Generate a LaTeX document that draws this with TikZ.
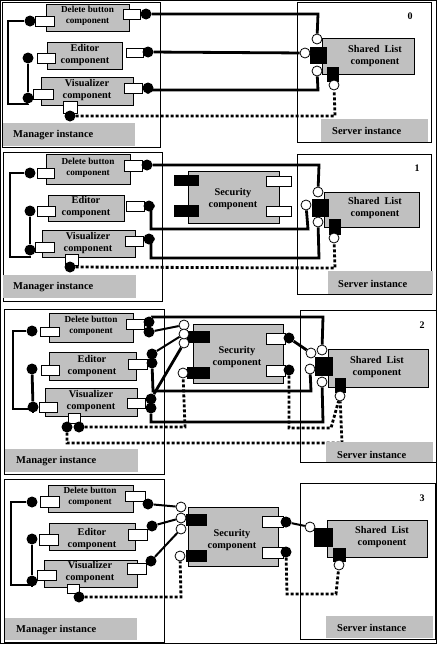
\documentclass[tikz,border=0pt]{standalone}
\usepackage{fontspec}
\setmainfont{Liberation Serif}
\usetikzlibrary{fit}
\pgfdeclarelayer{bg}
\pgfsetlayers{bg,main}
\definecolor{cgray}{HTML}{C0C0C0}
\tikzset{
 frame/.style={draw, line width=1pt, inner sep=0pt},
 comp/.style={draw, fill=cgray, line width=1pt, inner sep=0pt},
 lbl/.style={fill=cgray, inner sep=0pt},
 wport/.style={draw, fill=white, line width=1pt, inner sep=0pt},
 bport/.style={fill=black, inner sep=0pt},
 bdot/.style={circle, fill=black, inner sep=0pt, minimum size=11pt},
 wdot/.style={circle, draw, fill=white, inner sep=0pt, minimum size=10pt, line width=0.8pt},
 wire/.style={line width=2.8pt},
 twire/.style={line width=2pt},
 dwire/.style={line width=2.8pt, dash pattern=on 3pt off 2pt},
 ctext/.style={font=\bfseries\fontsize{10.3}{12}\selectfont, align=center, inner sep=0pt},
 stext/.style={font=\bfseries\fontsize{9.2}{10.5}\selectfont, align=center, inner sep=0pt},
 ltext/.style={font=\bfseries\fontsize{10.5}{12}\selectfont, anchor=west, inner sep=0pt},
 ntext/.style={font=\bfseries\fontsize{10}{12}\selectfont, inner sep=0pt},
}
\newcommand\rr[6]{\node[#2, fit={(#3,#4) (#5,#6)}] (#1) {};}
\begin{document}
\begin{tikzpicture}[x=1pt,y=-1pt]
\useasboundingbox (0,0) rectangle (437,645);
\node[frame, fit={(0.5,0.5) (436,643.5)}] (outer) {};

% ================= PANEL 0 =================
\rr{M0}{frame}{2}{2}{160}{147}
\rr{SV0}{frame}{297}{2}{431}{142}
\rr{ML0}{lbl}{3}{123}{135}{146}
\node[ltext] (ML0t) at (13,135) {Manager instance};
\rr{SL0}{lbl}{321}{119}{428}{142}
\node[ltext] (SL0t) at (332,131) {Server instance};
\node[ntext] (N0) at (410,16) {0};

\rr{D0}{comp}{46}{4}{129}{31}
\node[stext] (D0t) at (87.5,16) {Delete button\\component};
\rr{D0pl}{wport}{35}{16}{54}{26}
\rr{D0pr}{wport}{123}{9}{140}{19}
\node[bdot] (D0L) at (30,21) {};
\node[bdot] (D0R) at (146,14) {};

\rr{E0}{comp}{47}{42}{122}{69}
\node[ctext] (E0t) at (85,55) {Editor\\component};
\rr{E0pl}{wport}{37}{53}{55}{63}
\rr{E0pr}{wport}{126}{48}{143}{57}
\node[bdot] (E0L) at (28,58) {};
\node[bdot] (E0R) at (148,52) {};

\rr{V0}{comp}{41}{77}{133}{105}
\node[ctext] (V0t) at (87,90) {Visualizer\\component};
\rr{V0pl}{wport}{33}{89}{53}{99}
\rr{V0pr}{wport}{124}{83}{142}{93}
\rr{V0pb}{wport}{63}{101}{77}{113}
\node[bdot] (V0L) at (28,98) {};
\node[bdot] (V0R) at (148,88) {};
\node[bdot] (V0B) at (70,116) {};

\rr{S0}{comp}{322}{38}{414}{74}
\node[ctext] (S0t) at (375,56) {Shared~~List\\component};
\rr{S0big}{bport}{310}{47}{327}{64}
\rr{S0sm}{bport}{327}{67}{339}{82}
\node[wdot] (S0T) at (317,39) {};
\node[wdot] (S0L) at (305,53) {};
\node[wdot] (S0B) at (317,71) {};
\node[wdot] (S0P) at (334,85) {};

\begin{pgfonlayer}{bg}
\draw[wire] (D0L) -- (8,21) -- (8,104) -- (28,104) -- (V0L);
\draw[wire] (E0L) -- (V0L);
\draw[wire] (D0R) -- (318,14) -- (S0T);
\draw[wire] (E0R) -- (S0L);
\draw[wire] (V0R) -- (148,90) -- (318,90) -- (S0B);
\draw[dwire] (V0B) -- (335,116) -- (S0P);
\end{pgfonlayer}

% ================= PANEL 1 =================
\rr{M1}{frame}{3}{152}{162}{301}
\rr{SV1}{frame}{297}{154}{431}{294}
\rr{ML1}{lbl}{3}{275}{136}{298}
\node[ltext] (ML1t) at (13,287) {Manager instance};
\rr{SL1}{lbl}{328}{271}{433}{294}
\node[ltext] (SL1t) at (338,284) {Server instance};
\node[ntext] (N1) at (417,168) {1};

\rr{D1}{comp}{46}{154}{130}{184}
\node[stext] (D1t) at (88,168) {Delete button\\component};
\rr{D1pl}{wport}{37}{168}{54}{178}
\rr{D1pr}{wport}{124}{160}{142}{171}
\node[bdot] (D1L) at (30,173) {};
\node[bdot] (D1R) at (147,165) {};

\rr{E1}{comp}{48}{195}{124}{221}
\node[ctext] (E1t) at (86,207) {Editor\\component};
\rr{E1pl}{wport}{37}{206}{55}{216}
\rr{E1pr}{wport}{126}{201}{144}{211}
\node[bdot] (E1L) at (30,211) {};
\node[bdot] (E1R) at (149,206) {};

\rr{V1}{comp}{42}{230}{135}{257}
\node[ctext] (V1t) at (88,243) {Visualizer\\component};
\rr{V1pl}{wport}{35}{242}{54}{252}
\rr{V1pr}{wport}{125}{236}{143}{246}
\rr{V1pb}{wport}{65}{254}{78}{265}
\node[bdot] (V1L) at (30,250) {};
\node[bdot] (V1R) at (149,239) {};
\node[bdot] (V1B) at (70,267) {};

\rr{X1}{comp}{188}{171}{279}{223}
\node[ctext] (X1t) at (233,199) {Security\\component};
\rr{X1b1}{bport}{174}{175}{199}{186}
\rr{X1b2}{bport}{174}{205}{199}{217}
\rr{X1w1}{wport}{266}{176}{291}{186}
\rr{X1w2}{wport}{266}{206}{291}{216}

\rr{S1}{comp}{324}{192}{419}{227}
\node[ctext] (S1t) at (375,208) {Shared~~List\\component};
\rr{S1big}{bport}{312}{199}{329}{217}
\rr{S1sm}{bport}{329}{219}{341}{235}
\node[wdot] (S1T) at (318,192) {};
\node[wdot] (S1L) at (306,205) {};
\node[wdot] (S1B) at (318,222) {};
\node[wdot] (S1P) at (334,238) {};

\begin{pgfonlayer}{bg}
\draw[wire] (D1L) -- (10,173) -- (10,257) -- (30,257) -- (V1L);
\draw[wire] (E1L) -- (V1L);
\draw[wire] (D1R) -- (319,165) -- (S1T);
\draw[wire] (E1R) -- (151,206) -- (151,229) -- (308,229) -- (S1L);
\draw[wire] (V1R) -- (151,239) -- (151,258) -- (319,258) -- (S1B);
\draw[dwire] (V1B) -- (335,268) -- (S1P);
\end{pgfonlayer}

% ================= PANEL 2 =================
\rr{M2}{frame}{4}{309}{164}{474}
\rr{SV2}{frame}{300}{310}{436}{462}
\rr{ML2}{lbl}{5}{449}{138}{472}
\node[ltext] (ML2t) at (16,461) {Manager instance};
\rr{SL2}{lbl}{326}{442}{433}{462}
\node[ltext] (SL2t) at (337,455) {Server instance};
\node[ntext] (N2) at (422,325) {2};

\rr{D2}{comp}{49}{313}{133}{342}
\node[stext] (D2t) at (91,326) {Delete button\\component};
\rr{D2pl}{wport}{40}{327}{59}{336}
\rr{D2pr}{wport}{126}{319}{144}{329}
\node[bdot] (D2L) at (32,331) {};
\node[bdot] (D2R1) at (149,322) {};
\node[bdot] (D2R2) at (149,332) {};

\rr{E2}{comp}{49}{352}{136}{380}
\node[ctext] (E2t) at (92,366) {Editor\\component};
\rr{E2pl}{wport}{41}{365}{59}{375}
\rr{E2pr}{wport}{128}{359}{147}{369}
\node[bdot] (E2L) at (32,369) {};
\node[bdot] (E2R1) at (152,354) {};
\node[bdot] (E2R2) at (152,363) {};

\rr{V2}{comp}{45}{388}{137}{416}
\node[ctext] (V2t) at (91,401) {Visualizer\\component};
\rr{V2pl}{wport}{39}{402}{57}{412}
\rr{V2pr}{wport}{127}{398}{145}{408}
\rr{V2pb}{wport}{68}{413}{80}{423}
\node[bdot] (V2L) at (33,407) {};
\node[bdot] (V2R1) at (151,399) {};
\node[bdot] (V2R2) at (151,408) {};
\node[bdot] (V2B1) at (67,427) {};
\node[bdot] (V2B2) at (79,427) {};

\rr{X2}{comp}{193}{324}{283}{383}
\node[ctext] (X2t) at (237,357) {Security\\component};
\rr{X2b1}{bport}{187}{331}{210}{343}
\rr{X2b2}{bport}{187}{367}{210}{379}
\rr{X2w1}{wport}{266}{333}{285}{344}
\rr{X2w2}{wport}{266}{365}{285}{376}
\node[wdot] (K2a) at (184,325) {};
\node[wdot] (K2c) at (184,343) {};
\node[wdot] (K2b) at (184,334) {};
\node[wdot] (K2d) at (183,373) {};
\node[bdot] (X2a) at (289,338) {};
\node[bdot] (X2b) at (289,370) {};

\rr{S2}{comp}{328}{349}{428}{387}
\node[ctext] (S2t) at (377,367) {Shared~~List\\component};
\rr{S2big}{bport}{315}{357}{333}{376}
\rr{S2sm}{bport}{335}{378}{346}{393}
\node[wdot] (S2TL) at (311,353) {};
\node[wdot] (S2TR) at (322,350) {};
\node[wdot] (S2L) at (310,369) {};
\node[wdot] (S2B) at (322,382) {};
\node[wdot] (S2P) at (340,396) {};

\begin{pgfonlayer}{bg}
\draw[wire] (D2L) -- (13,331) -- (13,409) -- (33,409) -- (V2L);
\draw[wire] (E2L) -- (V2L);
\draw[wire] (D2R1) -- (152,317) -- (323,317) -- (S2TR);
\draw[wire] (E2R2) -- (153,391) -- (311,391) -- (S2L);
\draw[wire] (V2R2) -- (151,422) -- (323,422) -- (S2B);
\draw[twire] (D2R2) -- (K2a);
\draw[twire] (E2R1) -- (K2b);
\draw[wire] (V2R1) -- (K2c);
\draw[wire] (X2a) -- (S2TL);
\draw[dwire] (V2B2) -- (185,427) -- (K2d);
\draw[dwire] (V2B1) -- (67,443) -- (342,443) -- (S2P);
\draw[dwire] (X2b) -- (289,428) -- (331,428) -- (S2P);
\end{pgfonlayer}

% ================= PANEL 3 =================
\rr{M3}{frame}{4}{479}{164}{642}
\rr{SV3}{frame}{300}{483}{435}{639}
\rr{ML3}{lbl}{5}{618}{137}{640}
\node[ltext] (ML3t) at (16,630) {Manager instance};
\rr{SL3}{lbl}{326}{616}{433}{638}
\node[ltext] (SL3t) at (337,628) {Server instance};
\node[ntext] (N3) at (422,498) {3};

\rr{D3}{comp}{48}{485}{133}{512}
\node[stext] (D3t) at (90,497) {Delete button\\component};
\rr{D3pl}{wport}{40}{496}{59}{507}
\rr{D3pr}{wport}{125}{491}{145}{501}
\node[bdot] (D3L) at (32,502) {};
\node[bdot] (D3R) at (148,504) {};

\rr{E3}{comp}{49}{523}{135}{550}
\node[ctext] (E3t) at (92,539) {Editor\\component};
\rr{E3pl}{wport}{39}{534}{58}{545}
\rr{E3pr}{wport}{128}{529}{147}{540}
\node[bdot] (E3L) at (32,539) {};
\node[bdot] (E3R) at (152,526) {};

\rr{V3}{comp}{44}{560}{137}{587}
\node[ctext] (V3t) at (90,572) {Visualizer\\component};
\rr{V3pl}{wport}{37}{570}{56}{580}
\rr{V3pr}{wport}{127}{563}{146}{574}
\rr{V3pb}{wport}{67}{584}{79}{593}
\node[bdot] (V3L) at (32,581) {};
\node[bdot] (V3R) at (151,561) {};
\node[bdot] (V3B) at (79,597) {};

\rr{X3}{comp}{188}{507}{278}{566}
\node[ctext] (X3t) at (232,540) {Security\\component};
\rr{X3b1}{bport}{186}{514}{207}{526}
\rr{X3b2}{bport}{186}{550}{207}{562}
\rr{X3w1}{wport}{262}{516}{283}{527}
\rr{X3w2}{wport}{262}{547}{283}{558}
\node[wdot] (K3a) at (181,507) {};
\node[wdot] (K3c) at (181,529) {};
\node[wdot] (K3b) at (181,518) {};
\node[wdot] (K3d) at (180,556) {};
\node[bdot] (X3a) at (286,522) {};
\node[bdot] (X3b) at (286,552) {};

\rr{S3}{comp}{327}{520}{427}{557}
\node[ctext] (S3t) at (382,537) {Shared~~List\\component};
\rr{S3big}{bport}{314}{528}{333}{547}
\rr{S3sm}{bport}{333}{548}{346}{562}
\node[wdot] (S3TL) at (310,527) {};
\node[wdot] (S3P) at (339,565) {};

\begin{pgfonlayer}{bg}
\draw[wire] (D3L) -- (11,502) -- (11,585) -- (32,585) -- (V3L);
\draw[wire] (E3L) -- (V3L);
\draw[twire] (D3R) -- (K3a);
\draw[twire] (E3R) -- (K3b);
\draw[twire] (V3R) -- (K3c);
\draw[twire] (X3a) -- (S3TL);
\draw[dwire] (V3B) -- (181,597) -- (K3d);
\draw[dwire] (X3b) -- (287,594) -- (336,594) -- (S3P);
\end{pgfonlayer}
\end{tikzpicture}
\end{document}
